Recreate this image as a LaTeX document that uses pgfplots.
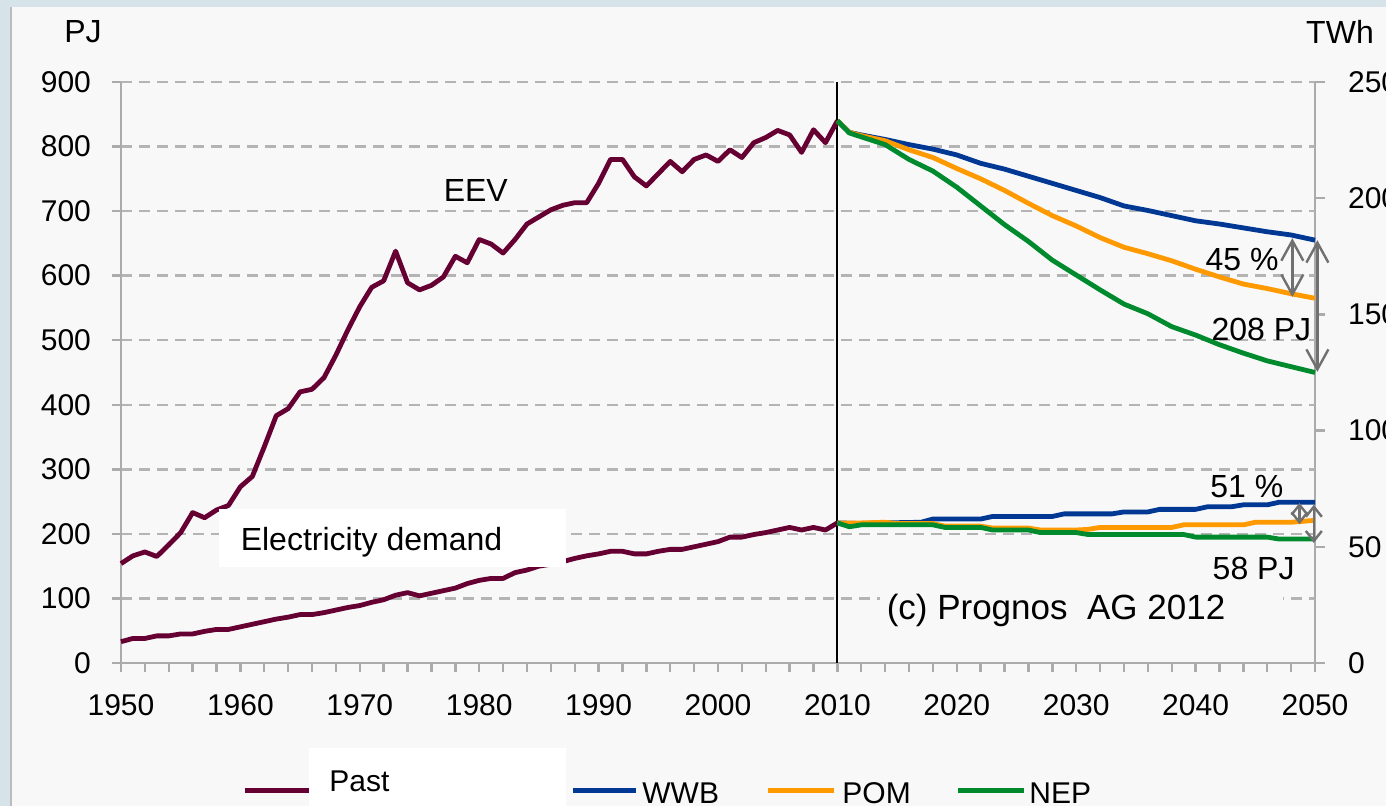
\documentclass[border=0pt]{standalone}
\usepackage{fontspec}
\setmainfont{Liberation Sans}
\usepackage{pgfplots}
\pgfplotsset{compat=1.18}
\usetikzlibrary{arrows.meta}
\definecolor{bgblue}{HTML}{D6E4EA}
\definecolor{panel}{HTML}{F8F8F8}
\definecolor{axisgray}{HTML}{ABABAB}
\definecolor{gridgray}{HTML}{B4B4B4}
\definecolor{arrowgray}{HTML}{707070}
\definecolor{past}{HTML}{660033}
\definecolor{wwb}{HTML}{003893}
\definecolor{pom}{HTML}{FF9900}
\definecolor{nep}{HTML}{008A2E}
\newcommand{\tickfont}{\fontsize{15}{18}\selectfont}
\newcommand{\annfont}{\fontsize{16}{19}\selectfont}
\begin{document}
\begin{tikzpicture}
\path[use as bounding box] (0,0) rectangle (693pt,403pt);
\fill[bgblue] (0,0) rectangle (693pt,403pt);
\fill[panel] (5.5pt,0) rectangle (693pt,399.5pt);
\draw[axisgray!80, line width=1pt] (5.5pt,0) -- (5.5pt,399.5pt);
\clip (0,0) rectangle (693pt,403pt);
\node[font=\annfont] at (41.5pt,387pt) {PJ};
\node[font=\annfont] at (670pt,387pt) {TWh};
% right axis
\begin{axis}[
  at={(60.5pt,71.5pt)}, anchor=south west,
  scale only axis, width=597pt, height=290.5pt,
  xmin=1950, xmax=2050, ymin=0, ymax=250,
  axis x line=none, axis y line*=right,
  axis line style={draw=axisgray, line width=1.2pt},
  ytick distance=50, tick align=outside, major tick length=5pt,
  tick style={draw=axisgray, line width=1.2pt},
  ticklabel style={font=\tickfont},
  yticklabel style={xshift=8pt},
  /pgf/number format/assume math mode=true,
]
\addplot[draw=none] coordinates {(1950,0)};
\end{axis}
% main axis
\begin{axis}[
  at={(60.5pt,71.5pt)}, anchor=south west,
  scale only axis, width=597pt, height=290.5pt,
  xmin=1950, xmax=2050, ymin=0, ymax=900,
  axis x line*=bottom, axis y line*=left,
  axis line style={draw=axisgray, line width=1.2pt},
  xtick distance=10, minor x tick num=4, ytick distance=100,
  tick align=outside, major tick length=4.5pt, minor tick length=4.5pt,
  tick style={draw=axisgray, line width=1.2pt},
  ymajorgrids, major grid style={draw=gridgray, line width=1.2pt, dash pattern=on 5.5pt off 3.5pt},
  ticklabel style={font=\tickfont},
  xticklabel style={yshift=-7.5pt},
  yticklabel style={xshift=-7pt},
  /pgf/number format/assume math mode=true,
  /pgf/number format/1000 sep={},
  clip=false,
  every axis plot/.append style={line width=2.4pt, line join=round},
]
\addplot[black, line width=1pt] coordinates {(2010,0) (2010,900)};
% EEV past
\addplot[past] coordinates {
(1950,154)(1951,166)(1952,172)(1953,165)(1954,183)(1955,202)(1956,233)(1957,225)(1958,237)(1959,244)
(1960,273)(1961,289)(1962,335)(1963,383)(1964,394)(1965,420)(1966,424)(1967,442)(1968,477)(1969,516)
(1970,552)(1971,582)(1972,592)(1973,638)(1974,589)(1975,578)(1976,585)(1977,598)(1978,630)(1979,620)
(1980,656)(1981,649)(1982,635)(1983,656)(1984,680)(1985,691)(1986,702)(1987,709)(1988,713)(1989,713)
(1990,743)(1991,780)(1992,780)(1993,753)(1994,739)(1995,758)(1996,777)(1997,761)(1998,780)(1999,787)
(2000,777)(2001,795)(2002,783)(2003,806)(2004,814)(2005,825)(2006,818)(2007,791)(2008,826)(2009,806)
(2010,840)};
% Electricity past
\addplot[past] coordinates {
(1950,33)(1951,38)(1952,38)(1953,42)(1954,42)(1955,45)(1956,45)(1957,49)(1958,52)(1959,52)
(1960,56)(1961,60)(1962,64)(1963,68)(1964,71)(1965,75)(1966,75)(1967,78)(1968,82)(1969,86)
(1970,89)(1971,94)(1972,98)(1973,105)(1974,109)(1975,104)(1976,108)(1977,112)(1978,116)(1979,123)
(1980,128)(1981,131)(1982,131)(1983,140)(1984,144)(1985,150)(1986,153)(1987,157)(1988,162)(1989,166)
(1990,169)(1991,173)(1992,173)(1993,169)(1994,169)(1995,173)(1996,176)(1997,176)(1998,180)(1999,184)
(2000,188)(2001,195)(2002,195)(2003,199)(2004,202)(2005,206)(2006,210)(2007,206)(2008,210)(2009,206)
(2010,217)};
% EEV scenarios
\addplot[wwb] coordinates {
(2010,840)(2011,822)(2012,818)(2014,811)(2016,803)(2018,796)(2020,787)(2022,774)(2024,765)(2026,754)
(2028,743)(2030,732)(2032,721)(2034,708)(2036,701)(2038,693)(2040,685)(2042,680)(2044,674)(2046,668)
(2048,663)(2050,655)};
\addplot[pom] coordinates {
(2010,840)(2011,822)(2012,817)(2014,809)(2016,795)(2018,783)(2020,766)(2022,750)(2024,732)(2026,712)
(2028,693)(2030,677)(2032,659)(2034,644)(2036,634)(2038,623)(2040,610)(2042,598)(2044,587)(2046,580)
(2048,572)(2050,565)};
\addplot[nep] coordinates {
(2010,840)(2011,821)(2012,815)(2014,803)(2016,780)(2018,762)(2020,737)(2022,708)(2024,679)(2026,653)
(2028,624)(2030,601)(2032,578)(2034,556)(2036,541)(2038,521)(2040,508)(2042,493)(2044,480)(2046,468)
(2048,459)(2050,450)};
% Electricity scenarios
\addplot[wwb] coordinates {
(2010,217)(2012,216)(2014,217)(2017,218)(2018,223)(2022,223)(2023,227)(2028,227)(2029,231)(2033,231)
(2034,234)(2036,234)(2037,238)(2040,238)(2041,242)(2043,242)(2044,245)(2046,245)(2047,249)(2050,249)};
\addplot[pom] coordinates {
(2010,217)(2012,217)(2014,218)(2015,216)(2018,216)(2019,212)(2022,212)(2023,209)(2026,209)(2027,206)
(2030,206)(2031,207)(2032,210)(2038,210)(2039,214)(2044,214)(2045,218)(2048,218)(2050,221)};
\addplot[nep] coordinates {
(2010,217)(2011,211)(2012,214)(2018,214)(2019,210)(2022,210)(2023,206)(2026,206)(2027,202)(2030,202)
(2031,199)(2039,199)(2040,195)(2046,195)(2047,192)(2050,192)};
% annotations
\fill[white] (axis cs:1958.2,148.7) rectangle (axis cs:1987.27,238.5);
\node[font=\annfont, anchor=base west, inner sep=0pt] at (axis cs:1960,173.5) {Electricity demand};
\node[font=\annfont, anchor=base west, inner sep=0pt] at (axis cs:1977,715.6) {EEV};
\fill[panel] (axis cs:2013.6,51) rectangle (axis cs:2047.3,121);
\node[font=\fontsize{17.5}{20}\selectfont, anchor=base west, inner sep=0pt] at (axis cs:2014.1,66.6) {(c) Prognos~~AG 2012};
\node[font=\annfont, anchor=base west, inner sep=0pt] at (axis cs:2040.8,608.7) {45 \%};
\node[font=\annfont, anchor=base west, inner sep=0pt] at (axis cs:2041.3,498.8) {208 PJ};
\node[font=\annfont, anchor=base west, inner sep=0pt] at (axis cs:2041.2,255.6) {51 \%};
\node[font=\annfont, anchor=base west, inner sep=0pt] at (axis cs:2041.4,128.6) {58 PJ};
\draw[arrowgray, line width=1.2pt, {Straight Barb[length=10pt,width=11pt]}-{Straight Barb[length=10pt,width=11pt]}] (axis cs:2048.1,658) -- (axis cs:2048.1,567);
\draw[arrowgray, line width=1.2pt, {Straight Barb[length=10pt,width=11pt]}-{Straight Barb[length=10pt,width=11pt]}] (axis cs:2050.2,655) -- (axis cs:2050.2,451);
\draw[arrowgray, line width=1.2pt, {Straight Barb[length=5pt,width=8pt]}-{Straight Barb[length=5pt,width=8pt]}] (axis cs:2048.7,248) -- (axis cs:2048.7,215);
\draw[arrowgray, line width=1.2pt, {Straight Barb[length=5pt,width=8pt]}-{Straight Barb[length=5pt,width=8pt]}] (axis cs:2049.9,245) -- (axis cs:2049.9,186);
\end{axis}
% legend
\draw[past, line width=2.5pt] (122.5pt,7.6pt) -- (160pt,7.6pt);
\fill[white] (154.5pt,0) rectangle (283pt,29pt);
\node[font=\tickfont, anchor=base west, inner sep=0pt] at (164.5pt,7pt) {Past};
\draw[wwb, line width=2.5pt] (286.5pt,7.6pt) -- (318pt,7.6pt);
\node[font=\tickfont, anchor=base west, inner sep=0pt] at (321pt,1pt) {WWB};
\draw[pom, line width=2.5pt] (384pt,7.6pt) -- (417pt,7.6pt);
\node[font=\tickfont, anchor=base west, inner sep=0pt] at (421pt,1pt) {POM};
\draw[nep, line width=2.5pt] (479pt,7.6pt) -- (512pt,7.6pt);
\node[font=\tickfont, anchor=base west, inner sep=0pt] at (514.5pt,1pt) {NEP};
\end{tikzpicture}
\end{document}
